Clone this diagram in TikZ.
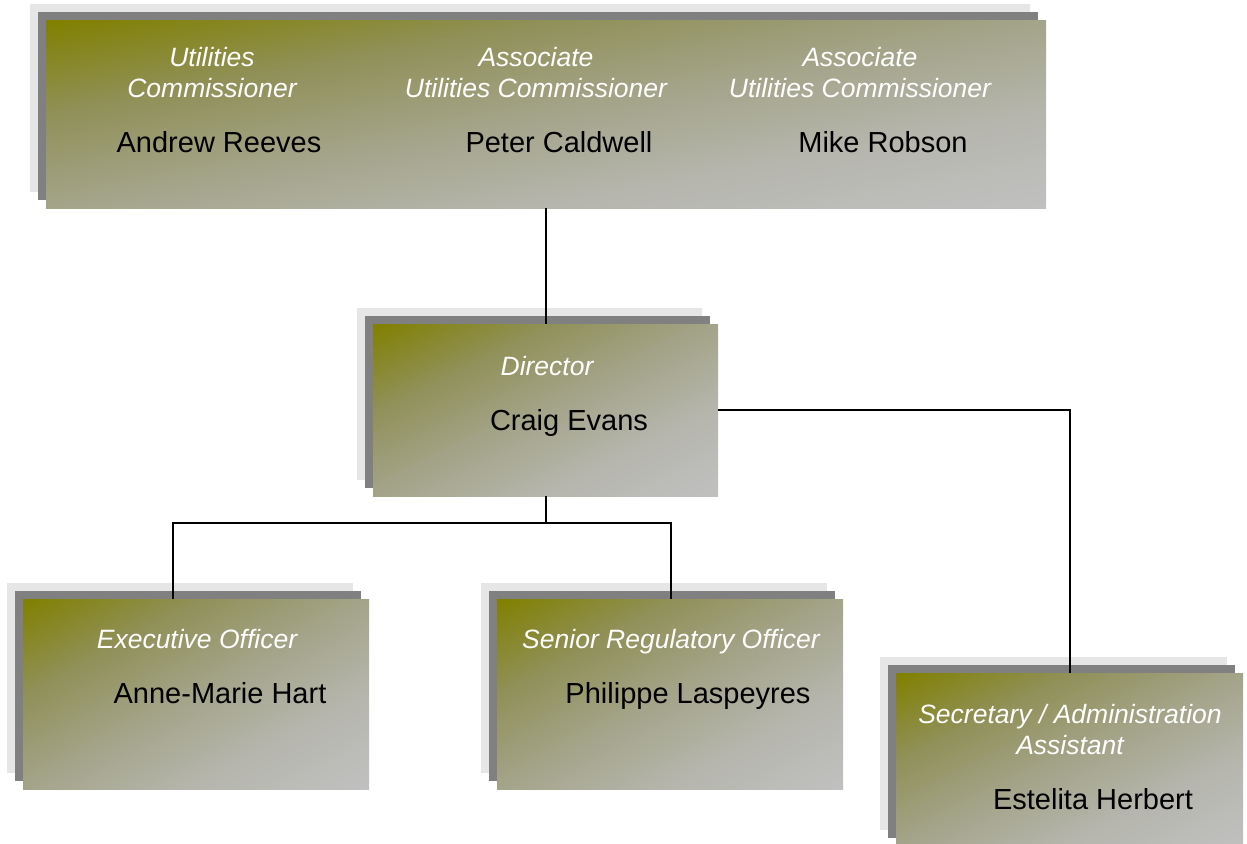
\documentclass[tikz,border=0pt]{standalone}
\usepackage{fontspec}
\setmainfont{Liberation Sans}
\usetikzlibrary{fit}
\definecolor{olivetop}{HTML}{808000}
\definecolor{olivea}{HTML}{909058}
\definecolor{oliveb}{HTML}{A4A48A}
\definecolor{olivec}{HTML}{B6B6AE}
\definecolor{silverbot}{HTML}{C0C0C0}
\definecolor{shlight}{HTML}{E6E6E6}
\definecolor{shdark}{HTML}{808080}
\pgfdeclareverticalshading{orgshade}{100bp}{color(0bp)=(silverbot); color(14.6bp)=(silverbot); color(32.3bp)=(olivec); color(50bp)=(oliveb); color(67.7bp)=(olivea); color(85.4bp)=(olivetop); color(100bp)=(olivetop)}
\tikzset{
  mainbox/.style={rectangle, inner sep=0pt, draw=none},
  titletext/.style={text=white, font=\fontsize{26.5}{31}\selectfont\itshape, align=center, inner sep=0pt},
  nametext/.style={text=black, font=\fontsize{29}{33}\selectfont, align=center, inner sep=0pt},
  conn/.style={draw=black, line width=1.4pt}
}
\newcommand\orgbox[5]{%
  \fill[shlight] (#2-16,#3-16) rectangle (#4-16,#5-16);
  \fill[shdark] (#2-8,#3-8) rectangle (#4-8,#5-8);
  \begin{scope}[transform canvas={shift={(#2,#5)}, xscale=(#4-#2)/100, yscale=(#5-#3)/100}]
    \shade[shading=orgshade, shading angle=45] (0,0) rectangle (100,-100);
  \end{scope}
  \node[mainbox, fit={(#2,#3) (#4,#5)}] (#1) {};
}
\begin{document}
\begin{tikzpicture}[x=1pt,y=-1pt]
\useasboundingbox (0,0) rectangle (1247,843);
\orgbox{top}{46}{20}{1046}{208}
\orgbox{dir}{373}{324}{718}{496}
\orgbox{exec}{23}{599}{369}{789}
\orgbox{sen}{497}{599}{843}{789}
\orgbox{sec}{896}{673}{1243}{846}

\node[titletext] (t1) at (212,73) {Utilities\\Commissioner};
\node[titletext] (t2) at (536,73) {Associate\\Utilities Commissioner};
\node[titletext] (t3) at (860,73) {Associate\\Utilities Commissioner};
\node[nametext] (n1) at (219,142) {Andrew Reeves};
\node[nametext] (n2) at (559,142) {Peter Caldwell};
\node[nametext] (n3) at (883,142) {Mike Robson};

\node[titletext] (t4) at (547,366) {Director};
\node[nametext] (n4) at (569,423) {Craig Evans};

\node[titletext] (t5) at (197,639) {Executive Officer};
\node[nametext] (n5) at (220,693) {Anne-Marie Hart};

\node[titletext] (t6) at (671,642) {Senior Regulatory Officer};
\node[nametext] (n6) at (688,696) {Philippe Laspeyres};

\node[titletext] (t7) at (1070,730) {Secretary / Administration\\Assistant};
\node[nametext] (n7) at (1093,799) {Estelita Herbert};

\coordinate (j) at (546,523);
\draw[conn] (top.south -| 546,0) -- (dir.north -| 546,0);
\draw[conn] (dir.east |- 0,410) -| (sec.north -| 1070,0);
\draw[conn] (dir.south -| 546,0) -- (j);
\draw[conn] (exec.north -| 173,0) |- (j) -| (sen.north -| 671,0);
\end{tikzpicture}
\end{document}
